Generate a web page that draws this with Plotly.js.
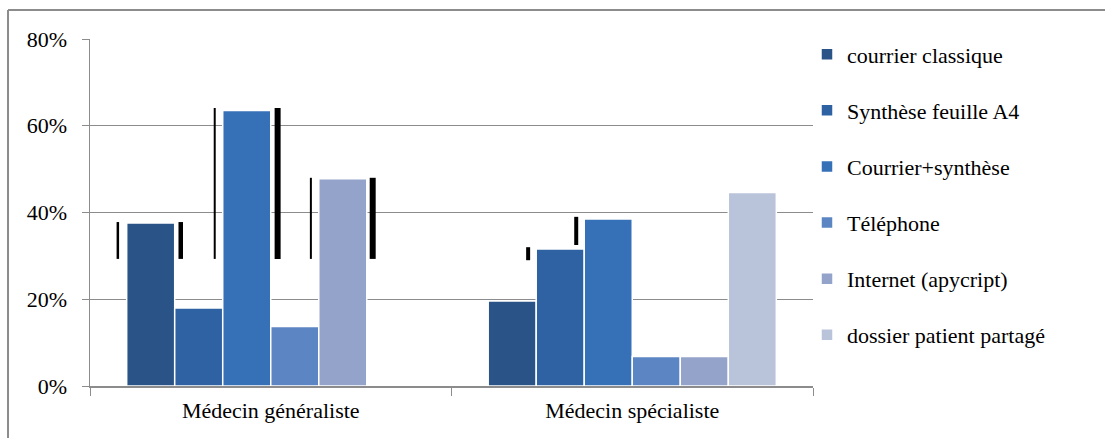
<!DOCTYPE html>
<html>
<head>
<meta charset="utf-8">
<script src="https://cdn.plot.ly/plotly-3.0.1.min.js"></script>
<style>
html,body{margin:0;padding:0;background:#fff;}
#chart{width:1105px;height:438px;}
</style>
</head>
<body>
<div id="chart"></div>
<script>
// Categories and series
const categories = ["Médecin généraliste", "Médecin spécialiste"];
const seriesNames = ["courrier classique", "Synthèse feuille A4", "Courrier+synthèse", "Téléphone", "Internet (apycript)", "dossier patient partagé"];
const courrierClassique = [37.6, 19.6];
const syntheseA4 = [18.0, 31.6];
const courrierSynthese = [63.5, 38.5];
const telephone = [13.7, 6.8];
const internet = [47.8, 6.8];
const dossierPartage = [0, 44.6];
const seriesValues = [courrierClassique, syntheseA4, courrierSynthese, telephone, internet, dossierPartage];
const seriesColors = ["#2a5487", "#2f62a3", "#3670b7", "#5c86c3", "#93a3c9", "#b9c3da"];
const yTickVals = [0, 20, 40, 60, 80];
const yTickText = ["0%", "20%", "40%", "60%", "80%"];

// Black vertical marks visible in the picture (category index, offset within category, top %, bottom %, thickness)
const markCat = [0, 0, 0, 0, 0, 0, 1, 1];
const markOffset = [-0.423, -0.249, -0.155, 0.019, 0.111, 0.282, -0.288, -0.155];
const markTop = [37.8, 37.8, 64.1, 64.1, 48.0, 48.0, 32.0, 39.0];
const markBottom = [29.3, 29.3, 29.3, 29.3, 29.3, 29.3, 29.0, 32.5];
const markWidth = [2.5, 4.5, 2, 6, 2, 6, 4, 4];

const font = "Liberation Serif";
const fsize = 22;

const traces = seriesNames.map((name, i) => ({
  type: "bar",
  name: name,
  x: categories,
  y: seriesValues[i],
  legendgroup: "g" + i,
  marker: {color: seriesColors[i], line: {color: "#ffffff", width: 1.5}},
  hoverinfo: "x+y+name"
}));

const shapes = markCat.map((c, i) => ({
  type: "line", xref: "x", yref: "y",
  x0: c + markOffset[i], x1: c + markOffset[i],
  y0: markBottom[i], y1: markTop[i],
  line: {color: "#000000", width: markWidth[i]}
}));
// outer frame (top and left edges)
shapes.push({type: "line", xref: "paper", yref: "paper", x0: -0.1134, x1: 1.45, y0: 1.0836, y1: 1.0836, line: {color: "#8c8c8c", width: 2}});
shapes.push({type: "line", xref: "paper", yref: "paper", x0: -0.1134, x1: -0.1134, y0: 1.0836, y1: -0.2, line: {color: "#8c8c8c", width: 2}});

const layout = {
  width: 1105, height: 438,
  margin: {l: 90, r: 292, t: 39, b: 52},
  paper_bgcolor: "#ffffff", plot_bgcolor: "#ffffff",
  barmode: "group", bargap: 0.203, bargroupgap: 0,
  font: {family: font, size: fsize, color: "#000000"},
  showlegend: true,
  legend: {
    x: 0.9917, xanchor: "left", y: 1.016, yanchor: "top",
    traceorder: "grouped", tracegroupgap: 24.5, maxheight: 1,
    font: {family: font, size: fsize, color: "#000000"},
    bgcolor: "rgba(0,0,0,0)", itemclick: false
  },
  xaxis: {
    type: "category", tickson: "boundaries", ticks: "outside", ticklen: 8,
    tickcolor: "#8c8c8c", showline: true, linecolor: "#8c8c8c", linewidth: 1.5,
    showgrid: false, tickfont: {family: font, size: fsize, color: "#000000"},
    ticklabelstandoff: 4, fixedrange: true
  },
  yaxis: {
    range: [0, 80], tickvals: yTickVals, ticktext: yTickText,
    ticks: "outside", ticklen: 7, tickcolor: "#8c8c8c",
    showline: true, linecolor: "#8c8c8c", linewidth: 1.5,
    showgrid: true, gridcolor: "#8c8c8c", gridwidth: 1, zeroline: false,
    tickfont: {family: font, size: fsize, color: "#000000"},
    ticklabelstandoff: 10, fixedrange: true
  },
  shapes: shapes
};

Plotly.newPlot("chart", traces, layout, {displayModeBar: false, staticPlot: true});
</script>
</body>
</html>
